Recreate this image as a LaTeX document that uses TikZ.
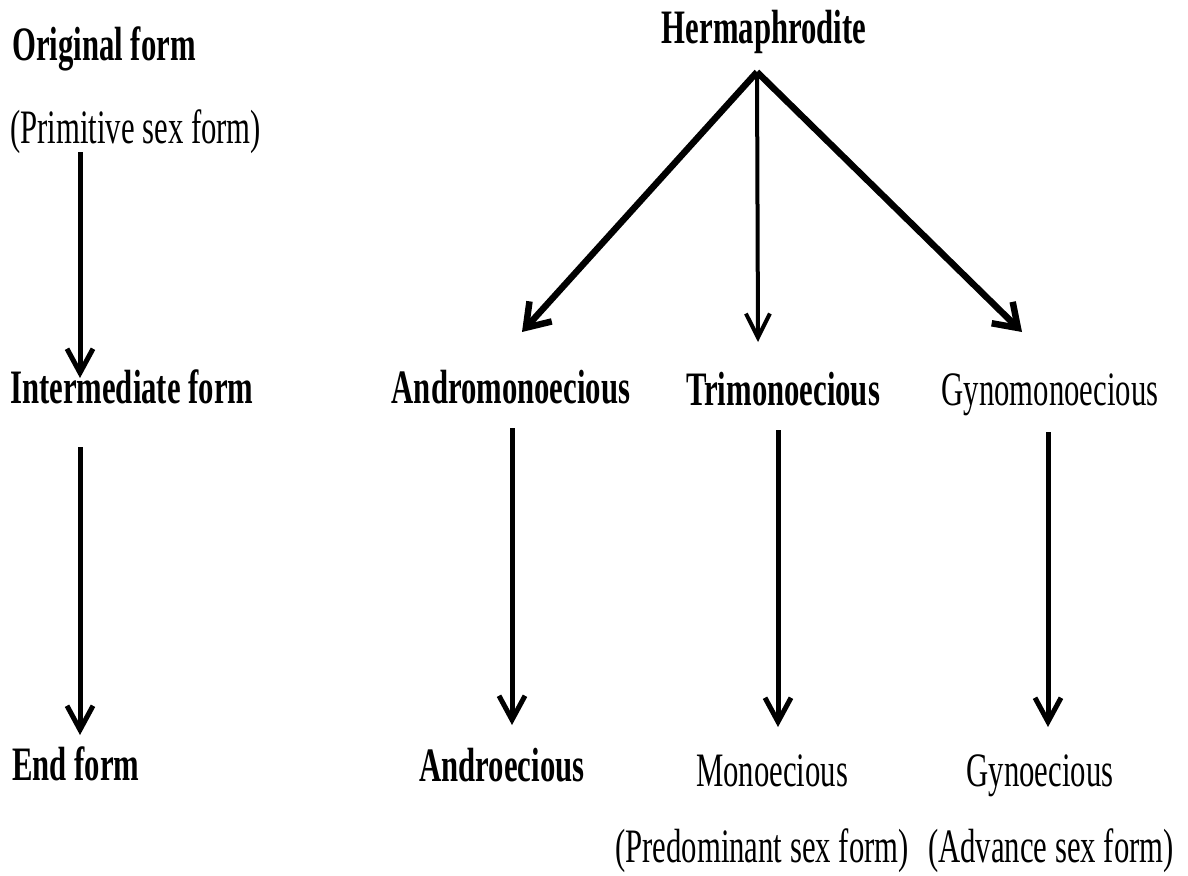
\documentclass[tikz,border=0pt]{standalone}
\usepackage{fontspec}
\setmainfont{Liberation Serif}[FakeStretch=0.64]
\usetikzlibrary{arrows.meta}
\begin{document}
\begin{tikzpicture}[x=1pt,y=-1pt,
  lbl/.style={inner sep=0pt, font=\fontsize{48}{50}\selectfont},
  blbl/.style={inner sep=0pt, font=\fontsize{48}{50}\selectfont\bfseries},
  arr/.style={line width=5pt, -{Straight Barb[length=24pt,width=26pt]}},
  marr/.style={line width=4pt, -{Straight Barb[length=24pt,width=24pt]}},
  darr/.style={line width=6.5pt, -{Straight Barb[length=22pt,width=30pt]}}]
\useasboundingbox (0,0) rectangle (1188,875);
% left column
\node[blbl, anchor=base west] (orig) at (12,60) {Original form};
\node[lbl, anchor=base west] (prim) at (10,143) {(Primitive sex form)};
\node[blbl, anchor=base west] (inter) at (10,403) {Intermediate form};
\node[blbl, anchor=base west] (endf) at (12,780) {End form};
% right part
\node[blbl, anchor=base] (herm) at (764,44) {Hermaphrodite};
\node[blbl, anchor=base] (andro) at (511,403) {Andromonoecious};
\node[blbl, anchor=base] (tri) at (783,405) {Trimonoecious};
\node[lbl, anchor=base] (gyno) at (1050,405) {Gynomonoecious};
\node[blbl, anchor=base] (androe) at (502,781) {Androecious};
\node[lbl, anchor=base] (mono) at (772,786) {Monoecious};
\node[lbl, anchor=base] (gynoe) at (1040,786) {Gynoecious};
\node[lbl, anchor=base] (pred) at (762,862) {(Predominant sex form)};
\node[lbl, anchor=base] (adv) at (1051,862) {(Advance sex form)};
% arrow end points
\coordinate (l1s) at (80,152);
\coordinate (l1e) at (80,378);
\coordinate (l2s) at (80,447);
\coordinate (l2e) at (80,735);
\coordinate (apex) at (757,72);
\coordinate (tipA) at (522,332);
\coordinate (tipT) at (758,342);
\coordinate (tipG) at (1022,332);
\coordinate (c1s) at (512,428);
\coordinate (c1e) at (512,725);
\coordinate (c2s) at (778,430);
\coordinate (c2e) at (778,727);
\coordinate (c3s) at (1048,432);
\coordinate (c3e) at (1048,727);
% arrows
\draw[arr] (l1s) -- (l1e);
\draw[arr] (l2s) -- (l2e);
\draw[darr] (apex) -- (tipA);
\draw[marr] (apex) -- (tipT);
\draw[darr] (apex) -- (tipG);
\draw[arr] (c1s) -- (c1e);
\draw[arr] (c2s) -- (c2e);
\draw[arr] (c3s) -- (c3e);
\end{tikzpicture}
\end{document}
